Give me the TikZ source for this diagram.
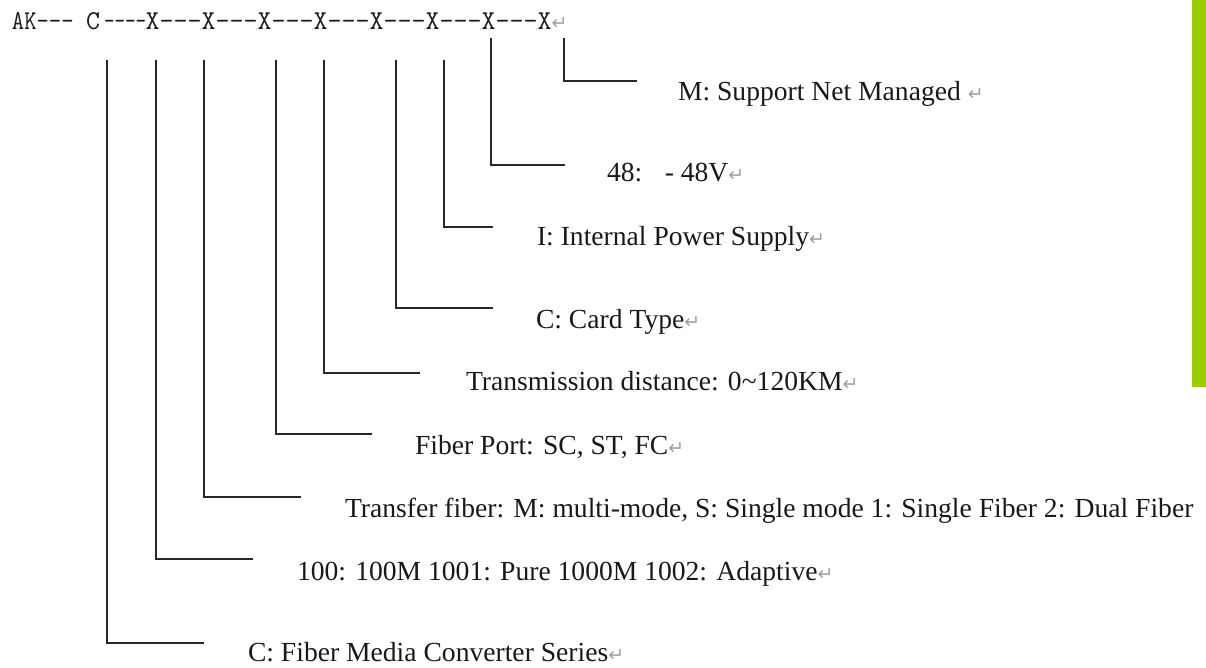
\documentclass[tikz,border=0pt]{standalone}
\usepackage{fontspec}
\usepackage{graphicx}
\setmainfont{Liberation Serif}
\newfontfamily\symfont{DejaVu Sans}
\definecolor{barGreen}{RGB}{154,204,0}
\definecolor{lineGray}{RGB}{40,40,40}
\definecolor{markGray}{RGB}{160,160,160}
\newcommand{\pmark}{{\symfont\fontsize{19}{21}\selectfont\textcolor{markGray}{↵}}}
\newcommand{\dsh}{-\kern0pt}
\tikzset{
  lbl/.style={anchor=base west, inner sep=0pt, outer sep=0pt, font=\fontsize{27.6}{32}\selectfont, text=black!90},
  code/.style={anchor=base west, inner sep=0pt, outer sep=0pt, font=\ttfamily\fontsize{27.2}{30}\selectfont, text=black!90},
  leader/.style={draw=lineGray, line width=1.6pt}
}
\begin{document}
\begin{tikzpicture}[x=1pt,y=-1pt]
\useasboundingbox (0,0) rectangle (1206,668);
\fill[barGreen] (1192,0) rectangle (1206,387);
% code line
\node[code] (ak) at (12,29.5) {\scalebox{0.88}[1]{AK\dsh\dsh\dsh}};
\node[code] (cc) at (86,29.5) {C};
\node[code] (cdash) at (104,29.5) {\scalebox{0.75}[1]{\dsh\dsh\dsh\dsh}};
\node[code] (xchain) at (145.5,29.5) {X\dsh\dsh\dsh X\dsh\dsh\dsh X\dsh\dsh\dsh X\dsh\dsh\dsh X\dsh\dsh\dsh X\dsh\dsh\dsh X\dsh\dsh\dsh X\pmark};
% connector tops
\coordinate (t1) at (564,38);
\coordinate (t2) at (491,38);
\coordinate (t3) at (444,60);
\coordinate (t4) at (396,60);
\coordinate (t5) at (324,60);
\coordinate (t6) at (276,60);
\coordinate (t7) at (204,60);
\coordinate (t8) at (156,60);
\coordinate (t9) at (107,60);
% connector ends
\coordinate (e1) at (637,81);
\coordinate (e2) at (565,165);
\coordinate (e3) at (493,227);
\coordinate (e4) at (493,308);
\coordinate (e5) at (420,373);
\coordinate (e6) at (372,434);
\coordinate (e7) at (301,497);
\coordinate (e8) at (253,559);
\coordinate (e9) at (204,643);
\foreach \i in {1,...,9} { \draw[leader] (t\i) |- (e\i); }
% labels
\node[lbl] (l1) at (678,100.5) {M: Support Net Managed \pmark};
\node[lbl] (l2) at (607,181.5) {48:\hspace{22.5pt}- 48V\pmark};
\node[lbl] (l3) at (537,245) {I: Internal Power Supply\pmark};
\node[lbl] (l4) at (536,328) {C: Card Type\pmark};
\node[lbl] (l5) at (466,390) {Transmission distance: 0\textasciitilde120KM\pmark};
\node[lbl] (l6) at (415,454) {Fiber Port: SC, ST, FC\pmark};
\node[lbl] (l7) at (345,517) {Transfer fiber: M: multi-mode, S: Single mode 1: Single Fiber 2: Dual Fiber};
\node[lbl] (l8) at (297,580) {100: 100M 1001: Pure 1000M 1002: Adaptive\pmark};
\node[lbl] (l9) at (248,661.5) {C: Fiber Media Converter Series\pmark};
\end{tikzpicture}
\end{document}
